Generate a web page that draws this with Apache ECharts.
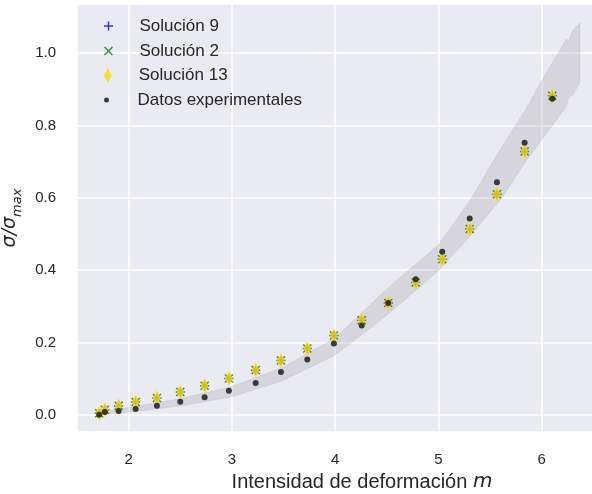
<!DOCTYPE html>
<html>
<head>
<meta charset="utf-8">
<script src="https://cdn.jsdelivr.net/npm/echarts@6/dist/echarts.min.js"></script>
<style>
  html, body { margin: 0; padding: 0; background: #ffffff; }
  #chart { width: 592px; height: 494px; }
</style>
</head>
<body>
<div id="chart"></div>
<script>
// Deformation intensity m for every measurement
const mValues = [1.715, 1.770, 1.903, 2.068, 2.274, 2.500, 2.736, 2.971, 3.230, 3.475,
                 3.730, 3.988, 4.257, 4.514, 4.780, 5.037, 5.303, 5.567, 5.835, 6.103];

// Normalised stress sigma / sigma_max
const expValues = [0.000, 0.0075, 0.010, 0.016, 0.025, 0.036, 0.048, 0.066, 0.088, 0.118,
                   0.153, 0.197, 0.247, 0.309, 0.375, 0.451, 0.543, 0.643, 0.752, 0.874];
const sol9Values = [0.004, 0.014, 0.024, 0.035, 0.046, 0.063, 0.080, 0.100, 0.123, 0.150,
                    0.183, 0.219, 0.261, 0.309, 0.366, 0.430, 0.514, 0.610, 0.728, 0.882];
const sol2Values = [0.004, 0.014, 0.025, 0.035, 0.046, 0.063, 0.080, 0.100, 0.124, 0.150,
                    0.183, 0.219, 0.261, 0.309, 0.366, 0.430, 0.514, 0.610, 0.728, 0.882];
const sol13Values = [0.004, 0.014, 0.025, 0.035, 0.046, 0.063, 0.080, 0.100, 0.124, 0.150,
                     0.183, 0.219, 0.261, 0.309, 0.366, 0.430, 0.514, 0.610, 0.728, 0.882];

// Shaded uncertainty region
const bandX    = [1.70, 1.80, 2.00, 2.50, 3.00, 3.50, 4.00, 4.50, 5.00, 5.30, 5.60, 5.85, 6.05, 6.18, 6.24, 6.26, 6.30, 6.37];
const bandLow  = [0.000, 0.002, 0.007, 0.024, 0.050, 0.095, 0.165, 0.275, 0.398, 0.492, 0.594, 0.703, 0.779, 0.830, 0.852, 0.876, 0.884, 0.918];
const bandHigh = [0.005, 0.010, 0.020, 0.044, 0.078, 0.132, 0.212, 0.348, 0.470, 0.590, 0.734, 0.846, 0.949, 1.009, 1.040, 1.032, 1.062, 1.084];

const seriesNames = ['Solución 9', 'Solución 2', 'Solución 13', 'Datos experimentales'];
const xLabel = 'Intensidad de deformación ';

const FONT = '"Liberation Sans", Arial, sans-serif';
const TEXT = '#262626';

const PLUS = 'path://M4.2,0H5.8V4.2H10V5.8H5.8V10H4.2V5.8H0V4.2H4.2Z';
const CROSS = 'path://M1.1,0L5,3.9L8.9,0L10,1.1L6.1,5L10,8.9L8.9,10L5,6.1L1.1,10L0,8.9L3.9,5L0,1.1Z';
const DIAMOND = 'path://M5,0L10,10L5,20L0,10Z';

const pairs = ys => mValues.map((x, i) => [x, ys[i]]);

const chart = echarts.init(document.getElementById('chart'), null, { renderer: 'canvas' });

// One legend block per row so that each marker keeps its own size
const legendRows = [
  { name: seriesNames[0], icon: PLUS, h: 9, top: 17 },
  { name: seriesNames[1], icon: CROSS, h: 9, top: 42 },
  { name: seriesNames[2], icon: DIAMOND, h: 15, top: 66.5 },
  { name: seriesNames[3], icon: 'circle', h: 5, top: 91 }
];

const option = {
  animation: false,
  backgroundColor: '#ffffff',
  grid: {
    left: 77, right: -55, top: 4, bottom: 62,
    outerBoundsMode: 'none',
    show: true, backgroundColor: '#EAEAF2', borderWidth: 0
  },
  legend: legendRows.map(r => ({
    left: 104, top: r.top, padding: 0,
    itemWidth: 52, itemHeight: r.h, itemGap: 0,
    selectedMode: false,
    data: [{ name: r.name, icon: r.icon }],
    textStyle: { fontFamily: FONT, fontSize: 17, color: TEXT, lineHeight: 18 }
  })),
  xAxis: {
    type: 'value', min: 1.5, max: 7.02,
    name: xLabel + '{m|m}',
    nameLocation: 'middle', nameGap: 40,
    nameTextStyle: {
      fontFamily: FONT, fontSize: 20, color: TEXT,
      rich: { m: { fontFamily: '"DejaVu Sans"', fontStyle: 'italic', fontSize: 20, color: TEXT } }
    },
    axisLine: { show: false }, axisTick: { show: false },
    axisLabel: { fontFamily: FONT, fontSize: 15, color: TEXT, margin: 20, showMinLabel: false, showMaxLabel: false },
    splitLine: { show: true, lineStyle: { color: '#ffffff', width: 1.5 } }
  },
  yAxis: {
    type: 'value', min: -0.0478, max: 1.136,
    name: '{a|σ/σ}{b|max}',
    nameLocation: 'middle', nameRotate: 90, nameGap: 36,
    nameTextStyle: {
      rich: {
        a: { fontFamily: '"DejaVu Sans"', fontStyle: 'italic', fontSize: 19, color: TEXT, lineHeight: 28 },
        b: { fontFamily: '"DejaVu Sans"', fontStyle: 'italic', fontSize: 13, color: TEXT, lineHeight: 28, verticalAlign: 'bottom' }
      }
    },
    axisLine: { show: false }, axisTick: { show: false },
    axisLabel: {
      fontFamily: FONT, fontSize: 15, color: TEXT, margin: 21,
      showMinLabel: false, showMaxLabel: false,
      formatter: v => v.toFixed(1)
    },
    splitLine: { show: true, lineStyle: { color: '#ffffff', width: 1.5 } }
  },
  series: [
    {
      type: 'custom', name: 'banda', silent: true, z: 1,
      data: [[bandX[0], bandLow[0]]],
      renderItem: (params, api) => {
        const pts = [];
        for (let i = 0; i < bandX.length; i++) pts.push(api.coord([bandX[i], bandHigh[i]]));
        for (let i = bandX.length - 1; i >= 0; i--) pts.push(api.coord([bandX[i], bandLow[i]]));
        return {
          type: 'polygon',
          shape: { points: pts },
          style: { fill: 'rgba(128,128,128,0.2)', stroke: 'rgba(128,128,128,0.15)', lineWidth: 1 }
        };
      }
    },
    {
      type: 'scatter', name: seriesNames[0], z: 2,
      symbol: PLUS, symbolSize: 9,
      itemStyle: { color: '#0000ff' },
      data: pairs(sol9Values)
    },
    {
      type: 'scatter', name: seriesNames[1], z: 3,
      symbol: CROSS, symbolSize: 9,
      itemStyle: { color: '#008000' },
      data: pairs(sol2Values)
    },
    {
      type: 'scatter', name: seriesNames[2], z: 4,
      symbol: DIAMOND, symbolSize: [8, 15],
      itemStyle: { color: '#FFD700' },
      data: pairs(sol13Values)
    },
    {
      type: 'scatter', name: seriesNames[3], z: 5,
      symbol: 'circle', symbolSize: 6,
      itemStyle: { color: '#111111' },
      data: pairs(expValues)
    }
  ]
};

chart.setOption(option);
</script>
</body>
</html>
